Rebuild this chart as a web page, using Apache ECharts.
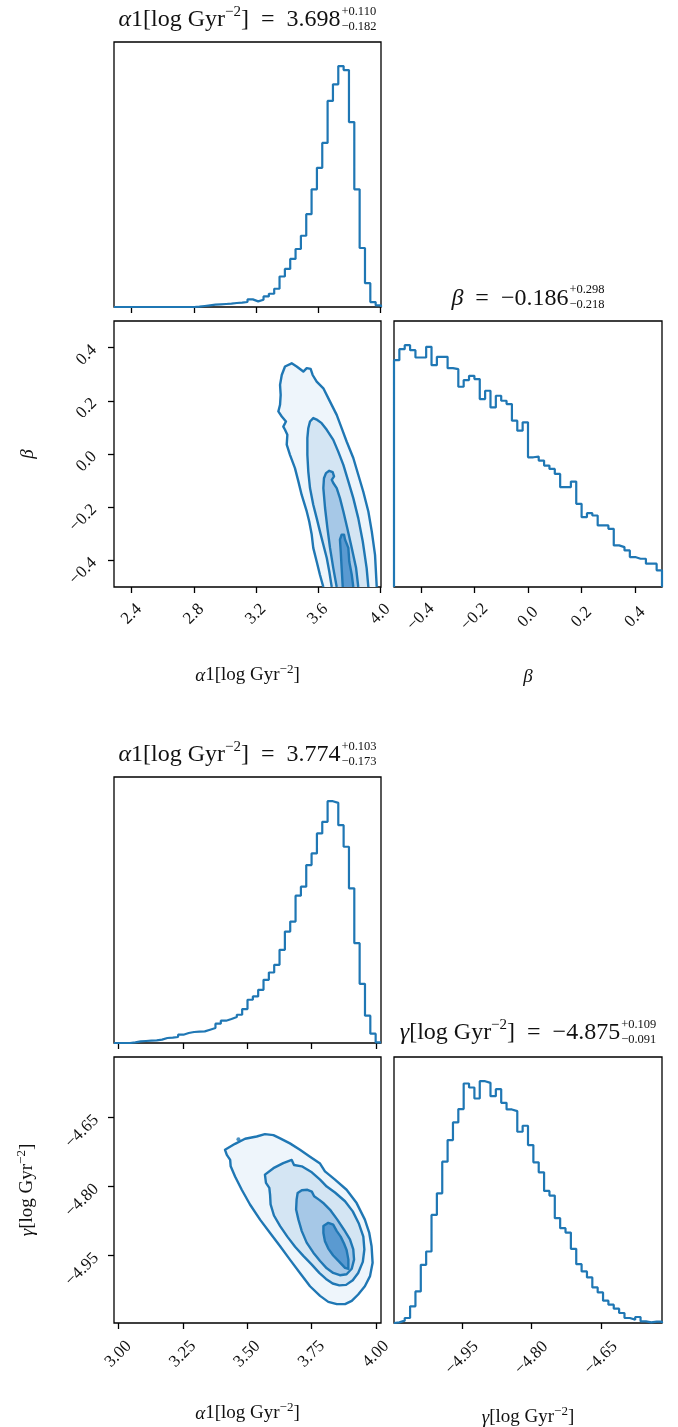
<!DOCTYPE html>
<html><head><meta charset="utf-8">
<script src="https://cdn.jsdelivr.net/npm/echarts@6/dist/echarts.min.js"></script>
<style>html,body{margin:0;padding:0;background:#fff}#c{width:678px;height:1427px}</style>
</head><body><div id="c"></div><script>
// ---------------- data ----------------
const alphaTopRange = [2.286, 4.0065];
const alphaTopHist = [0,0,0,0,0,0,0,0,0,0,0,0,0,0,0,1,3,5,7,8,9,10,12,13,15,23,17,22,32,40,55,92,115,145,175,215,280,355,420,495,622,672,727,715,558,355,178,72,15,5];
const betaRange = [-0.5, 0.5];
const betaHist = [682,715,727,712,690,690,722,667,692,692,658,655,602,622,635,625,565,590,540,575,560,550,500,470,495,390,392,380,365,355,340,300,300,317,250,210,222,215,185,185,175,125,120,110,90,85,85,70,70,50];
const alphaBotRange = [2.983, 4.0196];
const alphaBotHist = [0,0,0,2,5,6,7,8,10,15,16,18,25,30,33,34,35,40,45,58,67,72,78,85,102,130,140,160,190,212,235,280,335,365,443,470,535,570,630,665,727,722,655,590,465,300,178,82,28,2];
const gammaRange = [-5.097, -4.518];
const gammaHist = [2,7,15,50,95,175,215,325,390,485,550,603,643,720,708,675,727,722,682,703,662,642,637,575,593,535,483,453,397,383,315,285,272,223,177,155,137,107,92,67,55,43,30,15,10,18,5,2,4,4];

const alphaTopTicks = [2.4, 2.8, 3.2, 3.6, 4.0];
const betaTicks = [-0.4, -0.2, 0.0, 0.2, 0.4];
const alphaBotTicks = [3.0, 3.25, 3.5, 3.75, 4.0];
const gammaTicks = [-4.95, -4.80, -4.65];

// contour lines (alpha1, beta) - open at the bottom edge
const topC1 = [[3.635,-0.5],[3.613,-0.454],[3.592,-0.404],[3.570,-0.353],[3.560,-0.303],[3.544,-0.254],[3.528,-0.216],[3.495,-0.153],[3.474,-0.103],[3.452,-0.053],[3.420,-0.003],[3.399,0.035],[3.403,0.072],[3.388,0.091],[3.377,0.103],[3.394,0.122],[3.367,0.141],[3.345,0.160],[3.356,0.185],[3.360,0.222],[3.356,0.260],[3.367,0.297],[3.388,0.329],[3.431,0.341],[3.463,0.329],[3.506,0.310],[3.528,0.323],[3.553,0.320],[3.566,0.297],[3.592,0.272],[3.635,0.247],[3.678,0.197],[3.721,0.147],[3.753,0.097],[3.785,0.047],[3.828,-0.015],[3.860,-0.078],[3.892,-0.141],[3.925,-0.216],[3.947,-0.291],[3.968,-0.379],[3.979,-0.5]];
const topC2 = [[3.689,-0.5],[3.673,-0.441],[3.657,-0.391],[3.635,-0.341],[3.613,-0.291],[3.592,-0.241],[3.570,-0.191],[3.549,-0.128],[3.538,-0.066],[3.532,-0.003],[3.532,0.060],[3.538,0.097],[3.549,0.122],[3.570,0.135],[3.596,0.128],[3.624,0.116],[3.657,0.091],[3.699,0.053],[3.731,0.009],[3.764,-0.041],[3.796,-0.103],[3.828,-0.166],[3.860,-0.241],[3.889,-0.329],[3.914,-0.429],[3.925,-0.5]];
const topC3 = [[3.721,-0.5],[3.699,-0.429],[3.678,-0.353],[3.661,-0.278],[3.646,-0.203],[3.635,-0.128],[3.639,-0.091],[3.652,-0.072],[3.673,-0.063],[3.695,-0.068],[3.704,-0.084],[3.689,-0.097],[3.699,-0.109],[3.721,-0.128],[3.742,-0.166],[3.764,-0.216],[3.789,-0.278],[3.818,-0.353],[3.846,-0.429],[3.860,-0.5]];
const topC4 = [[3.760,-0.5],[3.753,-0.429],[3.747,-0.366],[3.742,-0.322],[3.753,-0.303],[3.768,-0.303],[3.775,-0.322],[3.796,-0.353],[3.802,-0.404],[3.818,-0.454],[3.828,-0.5]];

// contour lines (alpha1, gamma) - closed
const botC1 = [[3.414,-4.720],[3.453,-4.707],[3.492,-4.696],[3.537,-4.691],[3.569,-4.686],[3.602,-4.688],[3.628,-4.695],[3.666,-4.706],[3.705,-4.720],[3.744,-4.735],[3.783,-4.750],[3.802,-4.767],[3.841,-4.785],[3.886,-4.807],[3.925,-4.836],[3.957,-4.872],[3.974,-4.901],[3.983,-4.930],[3.987,-4.966],[3.977,-4.995],[3.957,-5.017],[3.931,-5.035],[3.906,-5.049],[3.880,-5.056],[3.848,-5.056],[3.815,-5.051],[3.783,-5.038],[3.744,-5.017],[3.705,-4.988],[3.666,-4.959],[3.628,-4.930],[3.589,-4.901],[3.550,-4.872],[3.511,-4.839],[3.479,-4.807],[3.453,-4.778],[3.436,-4.756],[3.434,-4.742],[3.421,-4.731]];
const botC2 = [[3.569,-4.774],[3.602,-4.760],[3.640,-4.749],[3.673,-4.742],[3.682,-4.753],[3.712,-4.756],[3.751,-4.769],[3.783,-4.785],[3.809,-4.800],[3.841,-4.813],[3.880,-4.832],[3.910,-4.854],[3.934,-4.881],[3.951,-4.909],[3.955,-4.937],[3.949,-4.964],[3.931,-4.988],[3.910,-5.004],[3.884,-5.014],[3.858,-5.015],[3.832,-5.011],[3.806,-5.001],[3.780,-4.988],[3.751,-4.970],[3.718,-4.951],[3.686,-4.931],[3.656,-4.909],[3.628,-4.886],[3.604,-4.863],[3.591,-4.839],[3.589,-4.818],[3.586,-4.803],[3.573,-4.792]];
const botC3 = [[3.696,-4.814],[3.712,-4.808],[3.734,-4.807],[3.751,-4.811],[3.760,-4.821],[3.780,-4.829],[3.798,-4.837],[3.824,-4.852],[3.850,-4.872],[3.876,-4.894],[3.899,-4.915],[3.912,-4.937],[3.915,-4.959],[3.906,-4.979],[3.886,-4.991],[3.860,-4.993],[3.834,-4.988],[3.809,-4.978],[3.783,-4.962],[3.757,-4.944],[3.731,-4.922],[3.712,-4.897],[3.699,-4.872],[3.690,-4.850],[3.692,-4.828]];
const botC4 = [[3.796,-4.886],[3.815,-4.879],[3.834,-4.883],[3.848,-4.897],[3.863,-4.909],[3.876,-4.924],[3.886,-4.938],[3.893,-4.959],[3.893,-4.979],[3.880,-4.977],[3.858,-4.964],[3.834,-4.950],[3.815,-4.935],[3.802,-4.919],[3.796,-4.901]];
const botOutlier = [[3.466,-4.697]];

// ---------------- styling ----------------
const C = '#1f77b4';
const FF = "'Liberation Serif','DejaVu Serif',serif";
const TXT = '#111';
const fills = ['#eef5fb', '#d4e5f3', '#a6c8e7', '#5a9ad1'];

const L = [114, 394], W = [267, 268], H = 266;
const grids = [
  {left: L[0], top: 42, width: W[0], height: 265},
  {left: L[0], top: 321, width: W[0], height: H},
  {left: L[1], top: 321, width: W[1], height: H},
  {left: L[0], top: 777, width: W[0], height: H},
  {left: L[0], top: 1057, width: W[0], height: H},
  {left: L[1], top: 1057, width: W[1], height: H}
].map(g => Object.assign({show: true, borderColor: '#000', borderWidth: 1.3, backgroundColor: 'transparent', containLabel: false, outerBoundsMode: 'none'}, g));

const TICKFS = 17;
function fmt(d) { return v => (v < -1e-9 ? '\u2212' : '') + Math.abs(v).toFixed(d); }
const tickStyle = ticks => ({show: true, inside: false, length: 6, lineStyle: {color: '#000', width: 1.3}, customValues: ticks});
const nameStyle = {fontFamily: FF, fontSize: 19, color: TXT, lineHeight: 25,
  rich: {i: {fontFamily: FF, fontSize: 19, fontStyle: 'italic', color: TXT, lineHeight: 25},
         n: {fontFamily: FF, fontSize: 19, color: TXT, lineHeight: 25},
         s: {fontFamily: FF, fontSize: 13, color: TXT, lineHeight: 13, verticalAlign: 'top'}}};

function xAx(grid, range, ticks, dec, opts) {
  const o = {type: 'value', gridIndex: grid, min: range[0], max: range[1], axisLine: {show: false, onZero: false}, splitLine: {show: false},
    axisTick: tickStyle(ticks), axisLabel: {show: false}};
  if (opts) {
    o.axisLabel = {show: true, customValues: ticks, formatter: fmt(dec), rotate: 45, margin: opts.margin,
      fontFamily: FF, fontSize: TICKFS, color: TXT, align: 'center', verticalAlign: 'middle'};
    o.name = opts.name; o.nameLocation = 'middle'; o.nameGap = opts.gap; o.nameTextStyle = nameStyle;
  }
  return o;
}
function yAx(grid, range, ticks, dec, opts) {
  if (!ticks) return {type: 'value', gridIndex: grid, min: range[0], max: range[1], show: false};
  return {type: 'value', gridIndex: grid, min: range[0], max: range[1], axisLine: {show: false, onZero: false}, splitLine: {show: false},
    axisTick: tickStyle(ticks),
    axisLabel: {show: true, customValues: ticks, formatter: fmt(dec), rotate: 45, margin: opts.margin, fontFamily: FF, fontSize: TICKFS, color: TXT},
    name: opts.name, nameLocation: 'middle', nameGap: opts.gap, nameTextStyle: nameStyle};
}

function stepData(range, counts) {
  const n = counts.length, w = (range[1] - range[0]) / n;
  const d = [[range[0], 0]];
  counts.forEach((c, i) => d.push([range[0] + i * w, c]));
  d.push([range[1], counts[n - 1]]);
  d.push([range[1], 0]);
  return d;
}
function histSeries(grid, range, counts) {
  return {type: 'line', xAxisIndex: grid, yAxisIndex: grid, data: stepData(range, counts), step: 'end', symbol: 'none',
    lineStyle: {color: C, width: 2.2}, clip: true, silent: true};
}
function contourSeries(grid, pts, fill, closed) {
  return {type: 'custom', coordinateSystem: 'cartesian2d', xAxisIndex: grid, yAxisIndex: grid, clip: true, silent: true,
    data: [[pts[0][0], pts[0][1]]],
    renderItem: (params, api) => {
      const p = pts.map(q => api.coord(q));
      return {type: 'group', children: [
        {type: 'polygon', shape: {points: p}, style: {fill: fill, stroke: null}},
        {type: closed ? 'polygon' : 'polyline', shape: {points: p}, style: {fill: null, stroke: C, lineWidth: 2.4, lineJoin: 'round'}}
      ]};
    }};
}

const maxOf = a => Math.max.apply(null, a);
const alphaName = '{i|α}{n|1[log Gyr}{s|\u22122}{n|]}';
const gammaName = '{i|γ}{n|[log Gyr}{s|\u22122}{n|]}';

const xAxes = [
  xAx(0, alphaTopRange, alphaTopTicks, 1, null),
  xAx(1, alphaTopRange, alphaTopTicks, 1, {margin: 27, name: alphaName, gap: 76}),
  xAx(2, betaRange, betaTicks, 1, {margin: 30, name: '{i|β}', gap: 77}),
  xAx(3, alphaBotRange, alphaBotTicks, 2, null),
  xAx(4, alphaBotRange, alphaBotTicks, 2, {margin: 31, name: alphaName, gap: 78}),
  xAx(5, gammaRange, gammaTicks, 2, {margin: 35, name: gammaName, gap: 82})
];
const yAxes = [
  yAx(0, [0, 1.1 * maxOf(alphaTopHist)]),
  yAx(1, betaRange, betaTicks, 1, {margin: 20, name: '{i|β}', gap: 74}),
  yAx(2, [0, 1.1 * maxOf(betaHist)]),
  yAx(3, [0, 1.1 * maxOf(alphaBotHist)]),
  yAx(4, gammaRange, gammaTicks, 2, {margin: 18, name: gammaName, gap: 74}),
  yAx(5, [0, 1.1 * maxOf(gammaHist)])
];

const series = [
  histSeries(0, alphaTopRange, alphaTopHist),
  histSeries(2, betaRange, betaHist),
  histSeries(3, alphaBotRange, alphaBotHist),
  histSeries(5, gammaRange, gammaHist)
];
[topC1, topC2, topC3, topC4].forEach((c, i) => series.push(contourSeries(1, c, fills[i], false)));
[botC1, botC2, botC3, botC4].forEach((c, i) => series.push(contourSeries(4, c, fills[i], true)));
series.push({type: 'scatter', xAxisIndex: 4, yAxisIndex: 4, data: botOutlier, symbolSize: 4, itemStyle: {color: C}, silent: true});

// ---------------- titles ----------------
const ctx = document.createElement('canvas').getContext('2d');
function tw(t, size, italic) { ctx.font = (italic ? 'italic ' : '') + size + 'px ' + FF; return ctx.measureText(t).width; }
const MAIN = 24, SUPM = 15, SCR = 12.5;
function titleEls(cx, cy, tokens, sup, sub) {
  let mw = 0;
  tokens.forEach(([t, s]) => { mw += s === 's' ? tw(t, SUPM) : tw(t, MAIN, s === 'i'); });
  const sw = Math.max(tw(sup, SCR), tw(sub, SCR));
  const left = cx - (mw + 1 + sw) / 2;
  const rich = {
    n: {fontSize: MAIN, fontFamily: FF, fill: TXT, lineHeight: 30},
    i: {fontSize: MAIN, fontFamily: FF, fontStyle: 'italic', fill: TXT, lineHeight: 30},
    s: {fontSize: SUPM, fontFamily: FF, fill: TXT, lineHeight: SUPM, verticalAlign: 'top'}
  };
  const txt = tokens.map(([t, s]) => '{' + s + '|' + t + '}').join('');
  const xs = left + mw + 1;
  return [
    {type: 'text', x: left, y: cy, style: {text: txt, rich: rich, fill: TXT, align: 'left', verticalAlign: 'middle', textAlign: 'left', textVerticalAlign: 'middle'}},
    {type: 'text', x: xs, y: cy - 8.5, style: {text: sup, fontSize: SCR, fontFamily: FF, fill: TXT, align: 'left', verticalAlign: 'middle', textAlign: 'left', textVerticalAlign: 'middle'}},
    {type: 'text', x: xs, y: cy + 6.5, style: {text: sub, fontSize: SCR, fontFamily: FF, fill: TXT, align: 'left', verticalAlign: 'middle', textAlign: 'left', textVerticalAlign: 'middle'}}
  ];
}
const SP = '\u2002';
const graphics = [].concat(
  titleEls(247.5, 20, [['α', 'i'], ['1[log Gyr', 'n'], ['\u22122', 's'], [']' + SP + '=' + SP + '3.698', 'n']], '+0.110', '\u22120.182'),
  titleEls(528, 298.5, [['β', 'i'], [SP + '=' + SP + '\u22120.186', 'n']], '+0.298', '\u22120.218'),
  titleEls(247.5, 755, [['α', 'i'], ['1[log Gyr', 'n'], ['\u22122', 's'], [']' + SP + '=' + SP + '3.774', 'n']], '+0.103', '\u22120.173'),
  titleEls(528, 1033, [['γ', 'i'], ['[log Gyr', 'n'], ['\u22122', 's'], [']' + SP + '=' + SP + '\u22124.875', 'n']], '+0.109', '\u22120.091')
);

const chart = echarts.init(document.getElementById('c'), null, {renderer: 'canvas'});
chart.setOption({
  animation: false,
  backgroundColor: '#fff',
  grid: grids,
  xAxis: xAxes,
  yAxis: yAxes,
  series: series,
  graphic: graphics
});
</script></body></html>
